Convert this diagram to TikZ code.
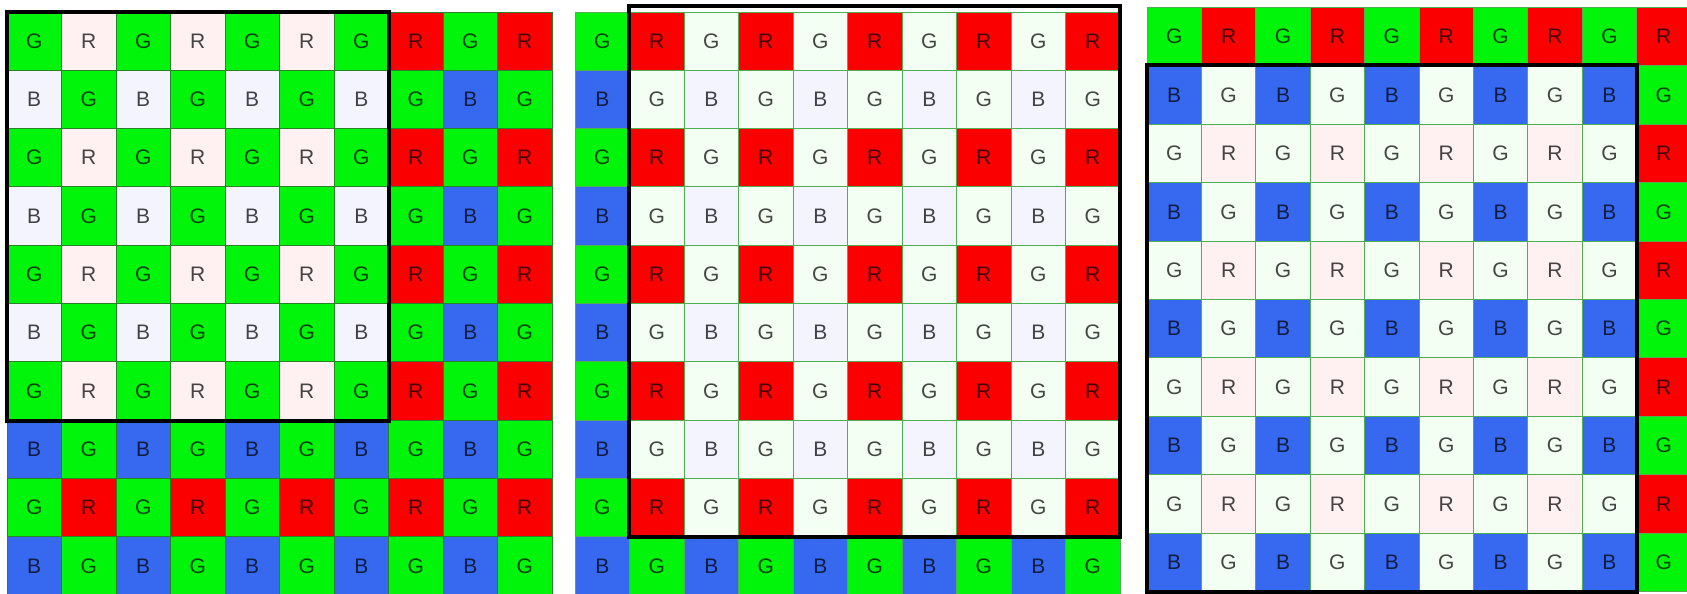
\documentclass[tikz,border=0pt]{standalone}
\usepackage{fontspec}
\setmainfont{Liberation Sans}
\definecolor{cR}{RGB}{250,0,0}
\definecolor{cG}{RGB}{0,245,10}
\definecolor{cB}{RGB}{55,105,240}
\definecolor{pR}{RGB}{255,241,241}
\definecolor{pG}{RGB}{242,255,242}
\definecolor{pB}{RGB}{244,244,255}
\definecolor{bd1}{RGB}{40,130,40}
\definecolor{bd2}{RGB}{80,175,80}
\definecolor{bd3}{RGB}{80,175,80}
\begin{document}
\begin{tikzpicture}[x=1pt,y=-1pt,
  cellbox/.style={rectangle, inner sep=0pt, line width=0.9pt, text=black, text opacity=0.72,
    font=\fontsize{21}{21}\selectfont},
  framebox/.style={draw=black, line width=4pt}]
\useasboundingbox (0,0) rectangle (1687,594);
\fill[white] (0,0) rectangle (1687,594);
\foreach \g/\gx/\gy/\w/\h/\ca/\cb/\ra/\rb/\keep/\bc in
  {1/7/12/54.5/58.3/0/6/0/6/1/bd1, 2/575/12/54.5/58.3/1/9/0/8/0/bd2, 3/1147/7.5/54.4/58.4/0/8/1/9/2/bd3}{
  \foreach \r in {0,...,9}{
    \foreach \c in {0,...,9}{
      \pgfmathtruncatemacro\pr{mod(\r,2)}
      \pgfmathtruncatemacro\pc{mod(\c,2)}
      \pgfmathtruncatemacro\code{\pr==0 ? (\pc==0 ? 1 : 0) : (\pc==0 ? 2 : 1)}
      \pgfmathtruncatemacro\ins{and(and(\c>=\ca,\c<=\cb),and(\r>=\ra,\r<=\rb))}
      \ifcase\code \def\L{R}\or\def\L{G}\or\def\L{B}\fi
      \def\pre{c}
      \ifnum\ins=1 \ifnum\code=\keep\else\def\pre{p}\fi\fi
      \node[cellbox, fill=\pre\L, draw=\bc, minimum width=\w pt, minimum height=\h pt]
        (g\g-\r-\c) at (\gx+\c*\w+\w/2, \gy+\r*\h+\h/2) {\L};
    }
  }
}
\draw[framebox] (g1-0-0.north west) rectangle (g1-6-6.south east);
\coordinate (f2top) at (g2-0-1.north west |- 0,6);
\draw[framebox] (f2top) rectangle (g2-8-9.south east);
\draw[framebox] (g3-1-0.north west) rectangle (g3-9-8.south east);
\end{tikzpicture}
\end{document}
